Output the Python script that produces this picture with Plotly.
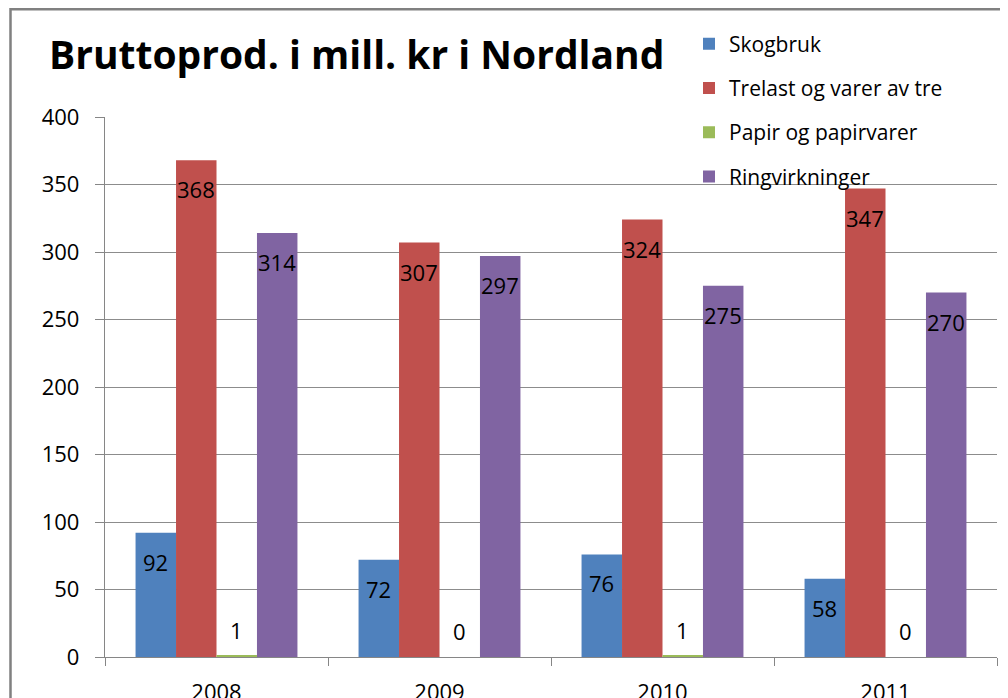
import plotly.graph_objects as go

years = ["2008", "2009", "2010", "2011"]
skogbruk = [92, 72, 76, 58]
trelast = [368, 307, 324, 347]
papir = [1, 0, 1, 0]
ringvirkninger = [314, 297, 275, 270]

series_names = ["Skogbruk", "Trelast og varer av tre", "Papir og papirvarer", "Ringvirkninger"]
series_values = [skogbruk, trelast, papir, ringvirkninger]
colors = ["#4F81BD", "#C0504D", "#9BBB59", "#8064A2"]

FONT = "Open Sans, Noto Sans, DejaVu Sans, sans-serif"
BARGAP = 0.274

# the page adds an 8px body margin, so figure coords = page coords - 8
L, T, R, B = 97, 109, 19, 49
PW, PH = 1008 - L - R, 698 - T - B

fig = go.Figure()
for i, (name, vals) in enumerate(zip(series_names, series_values)):
    fig.add_trace(go.Bar(
        x=years, y=vals, name=name,
        marker=dict(color=colors[i], line=dict(width=0)),
        legendgroup=name,
    ))

# data labels (placed like Excel "inside end")
nser = len(series_values)
w = (1 - BARGAP) / nser
annotations = []
for i, vals in enumerate(series_values):
    for j, v in enumerate(vals):
        xpos = j + (i - (nser - 1) / 2) * w
        small = v < 20
        annotations.append(dict(
            x=xpos, y=v, xref="x", yref="y", text=str(v), showarrow=False,
            yshift=26 if small else -29,
            font=dict(family=FONT, size=22, color="#000000"),
        ))

fig.update_layout(
    width=1008, height=698,
    margin=dict(l=L, r=R, t=T, b=B, autoexpand=False),
    paper_bgcolor="white", plot_bgcolor="white",
    barmode="group", bargap=BARGAP, bargroupgap=0,
    title=dict(
        text="<b>Bruttoprod. i mill. kr i Nordland</b>",
        x=41 / 1008, xanchor="left", y=1 - 47 / 698, yanchor="middle",
        font=dict(family=FONT, size=39, color="#000000"),
    ),
    legend=dict(
        x=(681 - L) / PW, xanchor="left", y=(T + PH - 15.5) / PH, yanchor="top",
        bgcolor="rgba(0,0,0,0)",
        font=dict(family=FONT, size=21, color="#000000"),
        traceorder="grouped", tracegroupgap=14,
    ),
    annotations=annotations,
    shapes=[dict(
        type="rect", xref="paper", yref="paper",
        x0=(2.5 - L) / PW, x1=1.2, y0=-0.3, y1=(T + PH - 1.3) / PH,
        line=dict(color="#808080", width=2.5), fillcolor="rgba(0,0,0,0)", layer="below",
    )],
    xaxis=dict(
        type="category", range=[-0.5, 3.5], automargin=False,
        showline=True, linecolor="#868686", linewidth=1.3,
        ticks="outside", tickson="boundaries", ticklen=8, tickcolor="#868686",
        ticklabelstandoff=15,
        tickfont=dict(family=FONT, size=22, color="#000000"),
        showgrid=False,
    ),
    yaxis=dict(
        range=[0, 400], dtick=50, automargin=False,
        showline=True, linecolor="#868686", linewidth=1.3,
        ticks="outside", ticklen=9, tickcolor="#868686",
        showgrid=True, gridcolor="#8C8C8C", gridwidth=1.3,
        zeroline=False,
        tickfont=dict(family=FONT, size=22, color="#000000"),
        ticklabelstandoff=11,
    ),
)

fig.write_html("out.html")
